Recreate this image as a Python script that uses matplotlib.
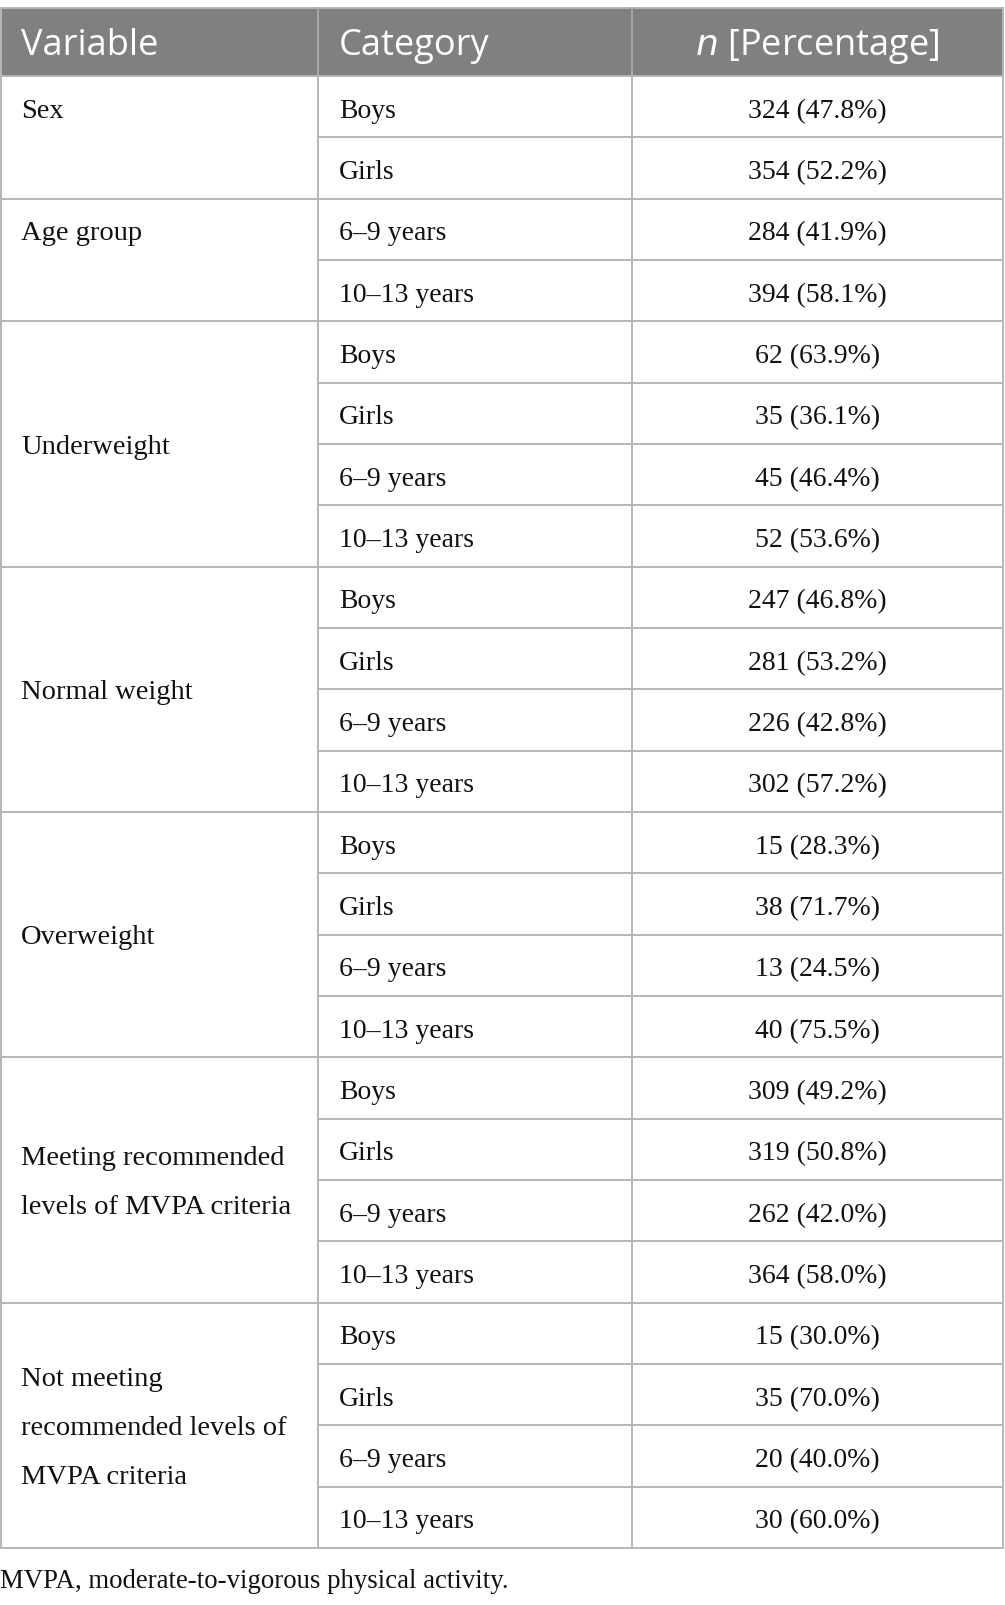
import matplotlib
matplotlib.use("Agg")
import matplotlib.pyplot as plt
from matplotlib.patches import Rectangle

# ---- data ----
headers = ["Variable", "Category", "n [Percentage]"]
variables = ["Sex", "Age group", "Underweight", "Normal weight", "Overweight",
             "Meeting recommended\nlevels of MVPA criteria",
             "Not meeting\nrecommended levels of\nMVPA criteria"]
categories = [
    ["Boys", "Girls"],
    ["6\u20139 years", "10\u201313 years"],
    ["Boys", "Girls", "6\u20139 years", "10\u201313 years"],
    ["Boys", "Girls", "6\u20139 years", "10\u201313 years"],
    ["Boys", "Girls", "6\u20139 years", "10\u201313 years"],
    ["Boys", "Girls", "6\u20139 years", "10\u201313 years"],
    ["Boys", "Girls", "6\u20139 years", "10\u201313 years"],
]
counts = [
    [324, 354],
    [284, 394],
    [62, 35, 45, 52],
    [247, 281, 226, 302],
    [15, 38, 13, 40],
    [309, 319, 262, 364],
    [15, 35, 20, 30],
]
percents = [
    [47.8, 52.2],
    [41.9, 58.1],
    [63.9, 36.1, 46.4, 53.6],
    [46.8, 53.2, 42.8, 57.2],
    [28.3, 71.7, 24.5, 75.5],
    [49.2, 50.8, 42.0, 58.0],
    [30.0, 70.0, 40.0, 60.0],
]
footnote = "MVPA, moderate-to-vigorous physical activity."

# ---- layout ----
W, H = 1005, 1606
fig = plt.figure(figsize=(W / 100, H / 100), dpi=100)
ax = fig.add_axes([0, 0, 1, 1])
ax.set_xlim(0, W)
ax.set_ylim(H, 0)
ax.axis("off")

x0, x1, x2, x3 = 1, 318, 632, 1003
head_top, head_bot = 9, 77
nrows = sum(len(c) for c in categories)
table_bot = 1549
rh = (table_bot - head_bot) / nrows

header_bg = "#808080"
line_c = "#b5b5b5"
text_c = "#111111"
serif = ["Liberation Serif", "DejaVu Serif"]
sans = ["Open Sans", "DejaVu Sans"]
body_fs = 20
var_fs = 20.5
head_fs = 26
lw = 1.4

# header
ax.add_patch(Rectangle((x0, head_top), x3 - x0, head_bot - head_top,
                       facecolor=header_bg, edgecolor=line_c, lw=lw))
for xv in (x1, x2):
    ax.plot([xv, xv], [head_top, head_bot], color="#a8a8a8", lw=lw)
hy = (head_top + head_bot) / 2 + 3
ax.text(21, hy, headers[0], color="white", fontsize=head_fs, family=sans,
        va="center", ha="left")
ax.text(339, hy, headers[1], color="white", fontsize=head_fs, family=sans,
        va="center", ha="left")
ax.text((x2 + x3) / 2, hy, r"$\it{n}$ [Percentage]", color="white",
        fontsize=head_fs, family=sans, va="center", ha="center")

# body
r = 0
for gi, var in enumerate(variables):
    g_top = head_bot + r * rh
    g_n = len(categories[gi])
    g_bot = g_top + g_n * rh
    # variable cell
    if g_n > 2:
        ax.text(21, (g_top + g_bot) / 2 + 2, var, color=text_c, fontsize=var_fs,
                family=serif, va="center", ha="left", linespacing=2.25)
    else:
        ax.text(21, g_top + rh / 2 + 10, var, color=text_c, fontsize=var_fs,
                family=serif, va="baseline", ha="left")
    for k, (cat, n, p) in enumerate(zip(categories[gi], counts[gi], percents[gi])):
        t = g_top + k * rh
        yb = t + rh / 2 + 10
        ax.text(339, yb, cat, color=text_c, fontsize=body_fs, family=serif,
                va="baseline", ha="left")
        ax.text((x2 + x3) / 2, yb, f"{n} ({p:.1f}%)", color=text_c,
                fontsize=body_fs, family=serif, va="baseline", ha="center")
        if k > 0:
            ax.plot([x1, x3], [t, t], color=line_c, lw=lw)
    ax.plot([x0, x3], [g_bot, g_bot], color=line_c, lw=lw)
    r += g_n

# vertical lines of body
for xv in (x0, x1, x2, x3):
    ax.plot([xv, xv], [head_bot, table_bot], color=line_c, lw=lw)

ax.text(0, 1588, footnote, color=text_c, fontsize=19.3, family=serif,
        va="baseline", ha="left")

fig.savefig("out.png", dpi=100)
